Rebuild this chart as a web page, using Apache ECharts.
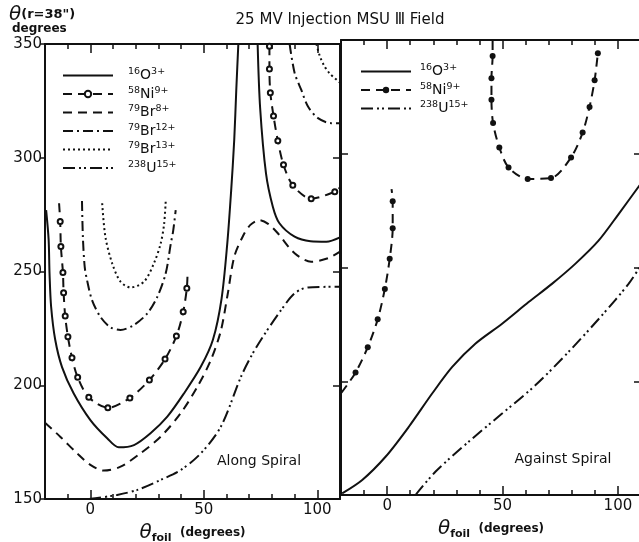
<!DOCTYPE html>
<html><head><meta charset="utf-8">
<script src="https://cdn.jsdelivr.net/npm/echarts@6/dist/echarts.min.js"></script>
<style>html,body{margin:0;padding:0;background:#fff}#c{width:639px;height:542px}</style>
</head><body><div id="c"></div>
<script>
// ---------- tick labels ----------
const xMajorTicks = [0, 50, 100];
const yTicks = [150, 200, 250, 300, 350];

// ---------- legend species ----------
const massLeft = ['16', '58', '79', '79', '79', '238'];
const elemLeft = ['O', 'Ni', 'Br', 'Br', 'Br', 'U'];
const chargeLeft = ['3+', '9+', '8+', '12+', '13+', '15+'];
const massRight = ['16', '58', '238'];
const elemRight = ['O', 'Ni', 'U'];
const chargeRight = ['3+', '9+', '15+'];

// ---------- Along Spiral (left panel) ----------
const o3AlongA = [[-19.5,277],[-18.4,264],[-18.0,249],[-17.3,234.5],[-15.5,220],[-12.5,208],[-7.4,196.5],[0,184.7],[7.4,176.7],[12.5,172.7],[19.2,173.7],[26.5,178.9],[33.9,186.2],[41.3,196.5],[48.7,208.2],[54.0,220],[57.8,238],[60.3,262],[62.0,285],[63.4,308],[64.3,330],[65.2,350]];
const o3AlongB = [[73.7,350],[74.8,322],[77.4,293],[80.4,278.5],[83.3,271.2],[90,265.3],[97,263.3],[104,263.1],[110,265]];

const ni9AlongUStart = [-13.8,280];
const ni9AlongUDots = [[-13.3,272],[-13,261],[-12.1,249.6],[-11.8,240.7],[-11.1,230.4],[-9.9,221.3],[-8.1,212.1],[-5.6,203.5],[-0.7,194.7],[7.7,190.1],[17.4,194.4],[26,202.3],[32.9,211.5],[37.9,221.6],[40.9,232.3],[42.5,242.6]];
const ni9AlongUEnd = [42.8,248.5];
const ni9AlongRDots = [[78.9,349],[78.9,339],[79.3,328.6],[80.7,318.4],[82.6,307.5],[85.1,296.9],[89.2,287.9],[97.3,282],[107.7,285.1]];
const ni9AlongREnd = [110,287];

const br8Along = [[-20,183.5],[-13.3,177.4],[-5.9,170.1],[0,165],[5.9,162.5],[13.3,164.2],[22.1,170.1],[31,177.4],[39.8,187.7],[47.2,199.4],[53.1,211.1],[57.5,224],[60.5,240],[63.4,256.5],[67.1,265.3],[70.5,270.5],[74.5,272.6],[78.5,270.8],[82.6,266.8],[90,258],[97.3,254.3],[104.7,255.8],[110,258.7]];

const br12AlongA = [[-3.7,281],[-3.3,265],[-2.5,252],[-1.5,246.3],[0.7,237.5],[4.4,230.1],[8.8,225.5],[13.3,224.3],[19.2,226.5],[25.1,231.6],[29.5,238.9],[33.2,249.2],[35.4,262],[36.5,268],[37.6,277]];
const br12AlongB = [[87.8,350],[90,337.3],[92.9,329.9],[95.9,322.5],[100.3,317.4],[106.2,315.2],[110,315.2]];

const br13AlongA = [[5.2,280],[6.6,265.3],[9.6,253.6],[13.3,245.5],[17.7,243],[23.6,245.5],[28,253.6],[31,262.4],[32.5,271],[33.2,281]];
const br13AlongB = [[99.6,350],[101,345],[103,340.5],[105.5,337],[110,333]];

const u15Along = [[-0.5,150],[2.2,150.3],[11.8,151.8],[20.7,154],[31,158.4],[39.8,162.7],[48.7,170.1],[57.5,181.8],[66.4,203.8],[71,213],[76,221.3],[84.1,233.1],[90,240.4],[95.9,243],[110,243.3]];

// ---------- Against Spiral (right panel) ----------
const o3Against = [[-19.5,150.7],[-10.8,156.6],[-0.7,166.8],[9.4,180],[19.5,194.6],[28.2,206.3],[38.2,216.5],[49.8,225.3],[61.3,234.8],[71.4,242.8],[81.5,251.6],[91.6,261.8],[100.3,273.5],[110,287]];
const u15Against = [[12.3,150],[20.9,160.2],[35.3,173.4],[49.8,185.8],[64.2,198.2],[78.6,212.9],[93.1,229],[104.6,242.8],[110,251]];
const ni9AgainstLStart = [-19.8,195];
const ni9AgainstLDots = [[-13.7,203.8],[-8.4,215],[-4.1,227.2],[-1.0,240.6],[1.1,253.8],[2.4,267.3],[2.4,279.1]];
const ni9AgainstLEnd = [1.9,284.5];
const ni9AgainstUStart = [45.7,349.6];
const ni9AgainstUDots = [[45.7,343],[45.2,333.2],[45.2,323.7],[45.9,313.5],[48.6,302.8],[52.6,294],[60.9,288.9],[71,289.3],[79.7,298.4],[84.7,309.3],[87.7,320.6],[89.9,332.3],[91.3,344.2]];

// ---------- build ----------
const FONT = 'DejaVu Sans';
const INK = '#111';
const chart = echarts.init(document.getElementById('c'), null, {renderer: 'canvas'});

function withEnds(start, dots, end) {
  const d = [];
  if (start) d.push({value: start, symbol: 'none'});
  dots.forEach(p => d.push(p));
  if (end) d.push({value: end, symbol: 'none'});
  return d;
}

const DASH = {
  solid: 'solid',
  ni: [9, 6],
  br8: [9, 6],
  br12: [10, 4, 2, 4],
  br13: [2, 3],
  u15: [12, 4, 2, 3, 2, 4]
};

function line(name, data, xi, yi, dash, extra) {
  return Object.assign({
    type: 'line', name: name, data: data, xAxisIndex: xi, yAxisIndex: yi,
    smooth: 0.3, symbol: 'none', animation: false, clip: true,
    lineStyle: {color: INK, width: 2, type: dash},
    itemStyle: {color: INK}
  }, extra || {});
}
const niLeftExtra = {symbol: 'emptyCircle', symbolSize: 5, showSymbol: true,
  itemStyle: {color: INK, borderWidth: 1.5}};
const niRightExtra = {symbol: 'circle', symbolSize: 6, showSymbol: true,
  itemStyle: {color: INK}};

const series = [
  line('O3L', o3AlongA, 0, 0, DASH.solid),
  line('O3L', o3AlongB, 0, 0, DASH.solid),
  line('Ni9L', withEnds(ni9AlongUStart, ni9AlongUDots, ni9AlongUEnd), 0, 0, DASH.ni, niLeftExtra),
  line('Ni9L', withEnds(null, ni9AlongRDots, ni9AlongREnd), 0, 0, DASH.ni, niLeftExtra),
  line('Br8L', br8Along, 0, 0, DASH.br8),
  line('Br12L', br12AlongA, 0, 0, DASH.br12),
  line('Br12L', br12AlongB, 0, 0, DASH.br12),
  line('Br13L', br13AlongA, 0, 0, DASH.br13),
  line('Br13L', br13AlongB, 0, 0, DASH.br13),
  line('U15L', u15Along, 0, 0, DASH.u15),

  line('O3R', o3Against, 4, 2, DASH.solid),
  line('Ni9R', withEnds(ni9AgainstLStart, ni9AgainstLDots, ni9AgainstLEnd), 4, 2, DASH.ni, niRightExtra),
  line('Ni9R', withEnds(ni9AgainstUStart, ni9AgainstUDots, null), 4, 2, DASH.ni, niRightExtra),
  line('U15R', u15Against, 4, 2, DASH.u15)
];

const legendNamesLeft = ['O3L', 'Ni9L', 'Br8L', 'Br12L', 'Br13L', 'U15L'];
const legendNamesRight = ['O3R', 'Ni9R', 'U15R'];
function legendLabel(name) {
  let i = legendNamesLeft.indexOf(name);
  if (i >= 0) return '{s|' + massLeft[i] + '}{m|' + elemLeft[i] + '}{s|' + chargeLeft[i] + '}';
  i = legendNamesRight.indexOf(name);
  return '{s|' + massRight[i] + '}{m|' + elemRight[i] + '}{s|' + chargeRight[i] + '}';
}
function legendItems(names) {
  return names.map(n => n.indexOf('Ni') === 0 ? {name: n} : {name: n, itemStyle: {opacity: 0}});
}
const legendRich = {
  s: {fontSize: 9.5, fontFamily: FONT, color: INK, verticalAlign: 'top', lineHeight: 10},
  m: {fontSize: 14, fontFamily: FONT, color: INK, lineHeight: 17}
};

const axisLineStyle = {color: INK, width: 2};
const tickStyle = {color: INK, width: 1.5};
const xName = '{t|θ}{s|foil}{d|  (degrees)}';
const xNameRich = {
  t: {fontSize: 20, fontStyle: 'italic', fontFamily: FONT, color: INK, lineHeight: 22},
  s: {fontSize: 11, fontWeight: 'bold', fontFamily: FONT, color: INK, verticalAlign: 'bottom', lineHeight: 12},
  d: {fontSize: 12, fontWeight: 'bold', fontFamily: FONT, color: INK, lineHeight: 18}
};

function xAxesFor(g) {
  const base = {gridIndex: g, type: 'value', min: -20, max: 110, splitLine: {show: false}};
  return [
    Object.assign({}, base, {position: 'bottom', interval: 10,
      axisLine: {onZero: false, lineStyle: axisLineStyle},
      axisTick: {inside: true, length: 5, lineStyle: tickStyle},
      axisLabel: {formatter: v => xMajorTicks.includes(v) ? String(v) : '', fontSize: 15, fontFamily: FONT, color: INK, margin: 4},
      name: xName, nameLocation: 'middle', nameGap: 22,
      nameTextStyle: {rich: xNameRich}}),
    Object.assign({}, base, {position: 'bottom', interval: 10,
      axisLine: {show: false, onZero: false},
      axisTick: {inside: true, length: 9, lineStyle: tickStyle, customValues: xMajorTicks},
      axisLabel: {show: false}}),
    Object.assign({}, base, {position: 'top', interval: 10,
      axisLine: {onZero: false, lineStyle: axisLineStyle},
      axisTick: {inside: true, length: 5, lineStyle: tickStyle},
      axisLabel: {show: false}}),
    Object.assign({}, base, {position: 'top', interval: 10,
      axisLine: {show: false, onZero: false},
      axisTick: {inside: true, length: 9, lineStyle: tickStyle, customValues: xMajorTicks},
      axisLabel: {show: false}})
  ];
}
function yAxesFor(g) {
  const base = {gridIndex: g, type: 'value', min: yTicks[0], max: yTicks[yTicks.length - 1], interval: 50, splitLine: {show: false}};
  return [
    Object.assign({}, base, {position: 'left',
      axisLine: {onZero: false, lineStyle: axisLineStyle},
      axisTick: {inside: g === 1, length: g === 1 ? 7 : 5, lineStyle: tickStyle},
      axisLabel: {show: g === 0, fontSize: 15, fontFamily: FONT, color: INK, margin: 3,
        formatter: v => yTicks.includes(v) ? String(v) : ''}}),
    Object.assign({}, base, {position: 'right',
      axisLine: {onZero: false, lineStyle: axisLineStyle},
      axisTick: {inside: true, length: 7, lineStyle: tickStyle},
      axisLabel: {show: false}})
  ];
}

const option = {
  backgroundColor: '#fff',
  animation: false,
  grid: [
    {left: 45, top: 44, width: 295, height: 455, containLabel: false, outerBoundsMode: 'none'},
    {left: 341, top: 40, width: 300, height: 455, containLabel: false, outerBoundsMode: 'none'}
  ],
  xAxis: xAxesFor(0).concat(xAxesFor(1)),
  yAxis: yAxesFor(0).concat(yAxesFor(1)),
  legend: [
    {data: legendItems(legendNamesLeft), orient: 'vertical', left: 62, top: 67, padding: 0, itemWidth: 50, itemHeight: 8, itemGap: 3,
      formatter: legendLabel, textStyle: {rich: legendRich, padding: [0, 0, 0, 10]}, selectedMode: false},
    {data: legendItems(legendNamesRight), orient: 'vertical', left: 360, top: 63, padding: 0, itemWidth: 50, itemHeight: 8, itemGap: 3,
      formatter: legendLabel, textStyle: {rich: legendRich, padding: [0, 0, 0, 4]}, selectedMode: false}
  ],
  graphic: [
    {type: 'text', x: 340, y: 20, style: {text: '25 MV Injection MSU Ⅲ Field', font: '15px "DejaVu Sans"', fill: INK, align: 'center', verticalAlign: 'middle'}},
    {type: 'text', x: 9, y: 4, style: {text: '{t|θ}{p|(r=38")}', align: 'left', verticalAlign: 'top',
      rich: {t: {fontSize: 20, fontStyle: 'italic', fontFamily: FONT, fill: INK, lineHeight: 22},
             p: {fontSize: 13, fontWeight: 'bold', fontFamily: FONT, fill: INK, lineHeight: 22}}}},
    {type: 'text', x: 12, y: 23, style: {text: 'degrees', font: 'bold 12px "DejaVu Sans"', fill: INK, align: 'left', verticalAlign: 'top'}},
    {type: 'text', x: 259, y: 461, style: {text: 'Along Spiral', font: '14px "DejaVu Sans"', fill: INK, align: 'center', verticalAlign: 'middle'}},
    {type: 'text', x: 563, y: 459, style: {text: 'Against Spiral', font: '14px "DejaVu Sans"', fill: INK, align: 'center', verticalAlign: 'middle'}}
  ],
  series: series
};
chart.setOption(option);
</script>
</body></html>
